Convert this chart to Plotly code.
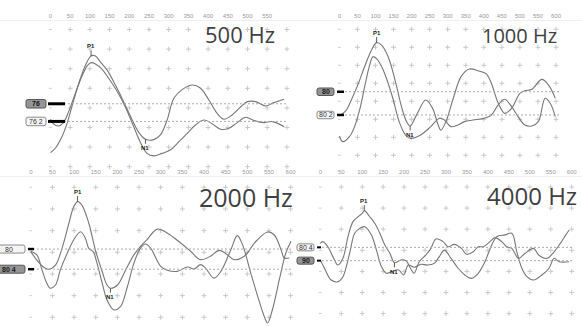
import numpy as np
import plotly.graph_objects as go

W, H = 582, 326

# ---------------- data ----------------
ticks_500 = [0, 50, 100, 150, 200, 250, 300, 350, 400, 450, 500, 550]
ticks_full = [0, 50, 100, 150, 200, 250, 300, 350, 400, 450, 500, 550, 600]
grid_ms = [0, 50, 100, 150, 200, 250, 300, 350, 400, 450, 500, 550, 600]

titles = ["500 Hz", "1000 Hz", "2000 Hz", "4000 Hz"]
labels_500 = ["76", "76 2"]
labels_1000 = ["80", "80 2"]
labels_2000 = ["80", "80 4"]
labels_4000 = ["80 4", "90"]

baseline_500 = [-0.79, -1.69]
baseline_1000 = [-0.47, -1.76]
baseline_2000 = [0.15, -0.78]
baseline_4000 = [0.14, -0.49]

p1_ms = [103, 103, 108, 105]
n1_ms = [241, 196, 184, 177]

p500_a_ms = [0, 12, 29, 42, 59, 76, 91, 103, 114, 126, 143, 165, 186, 207, 224, 241, 262, 279, 296, 313,
             334, 360, 381, 402, 423, 440, 461, 483, 500, 521, 546, 567, 593]
p500_a_val = [-3.28, -3.06, -2.47, -1.79, -0.6, 0.51, 1.28, 1.65, 1.65, 1.36, 0.95, 0.15, -0.7, -1.6, -2.25,
              -2.6, -2.62, -2.38, -1.62, -0.51, -0.07, 0.17, 0.0, -0.6, -1.28, -1.58, -1.36, -0.94, -0.68,
              -0.68, -0.9, -0.73, -0.56]
p500_b_ms = [0, 8, 20, 33, 46, 63, 80, 94, 103, 114, 131, 148, 169, 190, 211, 228, 245, 262, 283, 304, 326,
             347, 368, 390, 411, 432, 453, 474, 495, 517, 542, 563, 593]
p500_b_val = [-1.58, -1.82, -1.92, -1.75, -1.19, -0.26, 0.63, 1.17, 1.31, 1.24, 0.97, 0.5, -0.15, -0.95,
              -1.95, -2.75, -3.32, -3.45, -3.32, -3.15, -2.72, -2.3, -1.87, -1.62, -1.82, -2.09, -2.04,
              -1.75, -1.48, -1.65, -1.75, -1.7, -1.96]

p1000_a_ms = [0, 17, 33, 51, 70, 89, 103, 116, 135, 154, 172, 186, 196, 216, 239, 258, 272, 281, 295, 314,
              337, 360, 384, 407, 421, 440, 458, 477, 500, 514, 533, 561, 579, 598]
p1000_a_val = [-1.8, -1.55, -0.93, -0.09, 0.93, 1.85, 2.26, 2.13, 1.48, 0.19, -1.3, -2.13, -2.37, -1.67,
               -0.93, -1.39, -2.22, -2.6, -2.13, -0.93, 0.37, 0.79, 0.7, 0.52, 0.0, -1.11, -1.67, -1.39,
               -0.56, -0.41, -0.33, 0.22, -0.09, -0.83]
p1000_b_ms = [0, 9, 28, 42, 56, 70, 84, 93, 105, 121, 135, 149, 165, 184, 197, 225, 253, 277, 291, 309, 328,
              346, 370, 402, 421, 440, 458, 477, 495, 514, 533, 551, 570, 584, 598]
p1000_b_val = [-2.93, -3.24, -2.96, -2.41, -1.48, -0.19, 1.02, 1.48, 1.33, 0.75, 0.0, -0.9, -2.1, -2.9,
               -3.06, -2.87, -2.41, -1.94, -2.04, -2.41, -2.32, -2.13, -2.04, -1.94, -1.76, -1.2, -0.89,
               -1.3, -1.85, -2.32, -2.37, -2.13, -0.83, -1.11, -1.85]

p2000_a_ms = [0, 14, 30, 41, 57, 72, 88, 99, 108, 118, 134, 149, 165, 176, 184, 200, 219, 238, 253, 269,
              292, 315, 346, 369, 392, 415, 435, 454, 469, 493, 520, 547, 562, 578, 585, 597]
p2000_a_val = [0.03, -0.36, -0.69, -0.78, -0.59, 0.18, 1.34, 2.1, 2.34, 2.18, 1.34, 0.11, -0.9, -1.51,
               -1.66, -1.51, -0.82, -0.12, 0.26, 0.6, 1.07, 0.89, 0.43, 0.05, -0.34, -0.18, 0.09, -0.11,
               -0.34, -0.18, 0.51, 0.94, 0.81, 0.12, -0.26, -0.26]
p2000_b_ms = [0, 14, 26, 37, 45, 57, 68, 84, 99, 115, 126, 134, 144, 153, 165, 176, 192, 207, 223, 238,
              253, 265, 277, 300, 315, 338, 362, 377, 392, 403, 423, 439, 462, 477, 489, 508, 524, 539,
              547, 558, 574, 589, 601]
p2000_b_val = [0.05, -0.12, -0.82, -1.43, -1.66, -1.51, -0.82, -0.05, 0.57, 0.95, 0.65, 0.18, 0.03, -0.51,
               -1.43, -2.2, -2.66, -2.51, -1.59, -0.51, 0.18, 0.38, 0.18, -0.65, -0.83, -0.88, -0.68,
               -0.77, -0.57, -0.72, -1.19, -0.88, 0.12, 0.77, 0.35, -0.96, -2.03, -2.95, -3.26, -2.65,
               -1.26, -0.03, 0.51]

p4000_a_ms = [0, 6, 18, 30, 42, 54, 66, 78, 90, 100, 105, 118, 130, 142, 154, 166, 177, 192, 205, 215,
              224, 236, 252, 264, 276, 293, 305, 320, 337, 349, 365, 377, 389, 405, 417, 433, 445, 457,
              473, 489, 509, 521, 541, 558, 573, 586, 594]
p4000_a_val = [0.33, 0.41, 0.17, -0.3, -0.7, -0.38, 0.64, 1.36, 1.59, 1.75, 1.88, 1.59, 1.28, 0.81, 0.25,
               -0.14, -0.59, -0.46, -0.5, -0.85, -1.09, -0.54, -0.22, 0.09, 0.54, 0.41, 0.17, 0.28, 0.09,
               -0.19, -0.07, 0.17, 0.17, 0.41, 0.6, 0.41, 0.17, 0.09, -0.38, -0.14, 0.09, -0.22, -0.38,
               -0.07, 0.33, 0.73, 0.96]
p4000_b_ms = [0, 10, 26, 42, 54, 70, 82, 94, 106, 122, 134, 146, 158, 170, 187, 199, 210, 224, 240, 256,
              272, 284, 296, 312, 329, 345, 361, 377, 393, 409, 421, 441, 457, 469, 481, 493, 509, 529,
              546, 558, 570, 594]
p4000_b_val = [-0.46, -0.85, -1.41, -1.49, -1.25, -0.14, 0.81, 1.04, 1.12, 0.73, 0.01, -0.78, -1.09, -1.01,
               -0.93, -1.17, -0.7, -0.8, -0.66, -0.7, -0.62, -0.3, 0.01, -0.38, -0.85, -1.17, -1.33, -1.09,
               -0.54, 0.25, 0.64, 0.73, 0.81, -0.07, -0.85, -1.25, -1.41, -1.17, -0.85, -0.38, -0.54, -0.54]

# ---------------- layout helpers ----------------
def px(x):
    return x / W

def py(y):
    return 1 - y / H

panels = [
    dict(title=titles[0], a=(p500_a_ms, p500_a_val), b=(p500_b_ms, p500_b_val), ticks=ticks_500,
         x0=50.5, k=0.394, dx=(0, 291), zero=88.3, unit=19.6, dy=(0, 172), rows=range(-4, 4),
         axis_py=20, t_right=277, t_mid=34, t_size=22, base=baseline_500, labels=labels_500,
         dark=[True, False], dash=(48, 287), bar=(48, 65), bar_w=3, box=(26, 46), box_h=8.5),
    dict(title=titles[1], a=(p1000_a_ms, p1000_a_val), b=(p1000_b_ms, p1000_b_val), ticks=ticks_full,
         x0=339.4, k=0.361, dx=(291, 582), zero=83.3, unit=18.0, dy=(0, 163), rows=range(-4, 4),
         axis_py=20, t_right=559, t_mid=35, t_size=20, base=baseline_1000, labels=labels_1000,
         dark=[True, False], dash=(337, 560), bar=(337, 344), bar_w=2.5, box=(317, 334), box_h=7.5),
    dict(title=titles[2], a=(p2000_a_ms, p2000_a_val), b=(p2000_b_ms, p2000_b_val), ticks=ticks_full,
         x0=30.8, k=0.433, dx=(0, 300), zero=252.3, unit=21.67, dy=(163, 326), rows=range(-3, 4),
         axis_py=176, t_right=295, t_mid=197, t_size=25, base=baseline_2000, labels=labels_2000,
         dark=[False, True], dash=(29, 291), bar=(28, 34), bar_w=2.5, box=(-8, 25), box_h=8),
    dict(title=titles[3], a=(p4000_a_ms, p4000_a_val), b=(p4000_b_ms, p4000_b_val), ticks=ticks_full,
         x0=320.3, k=0.419, dx=(291, 582), zero=250.3, unit=21.1, dy=(163, 326), rows=range(-3, 4),
         axis_py=176, t_right=579, t_mid=195, t_size=24, base=baseline_4000, labels=labels_4000,
         dark=[False, True], dash=(318, 572), bar=(317, 321), bar_w=2, box=(297, 314), box_h=7),
]

fig = go.Figure()
layout = dict(width=W, height=H, margin=dict(l=0, r=0, t=0, b=0, autoexpand=False), paper_bgcolor="white",
              plot_bgcolor="rgba(0,0,0,0)", showlegend=False)
shapes, annots = [], []

def rounded_path(x0, x1, yc, h, r=2.0):
    y0, y1 = yc - h / 2, yc + h / 2
    pts = [
        ("M", [(x0 + r, y0)]), ("L", [(x1 - r, y0)]), ("Q", [(x1, y0), (x1, y0 + r)]),
        ("L", [(x1, y1 - r)]), ("Q", [(x1, y1), (x1 - r, y1)]), ("L", [(x0 + r, y1)]),
        ("Q", [(x0, y1), (x0, y1 - r)]), ("L", [(x0, y0 + r)]), ("Q", [(x0, y0), (x0 + r, y0)]),
    ]
    s = ""
    for cmd, ps in pts:
        s += cmd + " " + " ".join(f"{px(a):.5f},{py(b):.5f}" for a, b in ps) + " "
    return s + "Z"

for i, p in enumerate(panels, start=1):
    xa, ya = f"x{i}", f"y{i}"
    xk = "xaxis" if i == 1 else f"xaxis{i}"
    yk = "yaxis" if i == 1 else f"yaxis{i}"
    xr = [(p["dx"][0] - p["x0"]) / p["k"], (p["dx"][1] - p["x0"]) / p["k"]]
    yr = [(p["zero"] - p["dy"][1]) / p["unit"], (p["zero"] - p["dy"][0]) / p["unit"]]
    layout[xk] = dict(domain=[px(p["dx"][0]), px(p["dx"][1])], range=xr, side="top", anchor="free",
                      position=py(p["axis_py"]), tickvals=p["ticks"], ticktext=[str(t) for t in p["ticks"]],
                      tickfont=dict(size=6, color="#9a9a9a", family="Liberation Sans"), ticks="",
                      showgrid=False, zeroline=False, showline=True, linecolor="#efefef", linewidth=1,
                      automargin=False, fixedrange=True)
    layout[yk] = dict(domain=[py(p["dy"][1]), py(p["dy"][0])], range=yr, visible=False,
                      anchor=xa, fixedrange=True)

    # dot grid
    gx, gy, dx_, dy_ = [], [], [], []
    for r in p["rows"]:
        for c in grid_ms:
            if c == 0:
                dx_.append(c); dy_.append(r)
            else:
                gx.append(c); gy.append(r)
    fig.add_trace(go.Scatter(x=gx, y=gy, mode="markers", xaxis=xa, yaxis=ya, hoverinfo="skip",
                             marker=dict(symbol="cross-thin", size=3.5, line=dict(width=1, color="#c9c9c9"))))
    fig.add_trace(go.Scatter(x=dx_, y=dy_, mode="markers", xaxis=xa, yaxis=ya, hoverinfo="skip",
                             marker=dict(symbol="line-ew", size=2, line=dict(width=1, color="#cfcfcf"))))

    # baselines, bars, label boxes
    for j, b in enumerate(p["base"]):
        shapes.append(dict(type="line", xref="paper", yref=ya, x0=px(p["dash"][0]), x1=px(p["dash"][1]),
                           y0=b, y1=b, line=dict(color="#ababab", width=1, dash="2px,2px")))
        shapes.append(dict(type="line", xref="paper", yref=ya, x0=px(p["bar"][0]), x1=px(p["bar"][1]),
                           y0=b, y1=b, line=dict(color="black", width=p["bar_w"])))
        yc = p["zero"] - b * p["unit"]
        dark = p["dark"][j]
        shapes.append(dict(type="path", xref="paper", yref="paper",
                           path=rounded_path(p["box"][0], p["box"][1], yc, p["box_h"]),
                           fillcolor="#959595" if dark else "#f5f5f5",
                           line=dict(color="#555555" if dark else "#8a8a8a", width=1)))
        txt = p["labels"][j]
        annots.append(dict(xref="paper", yref="paper", x=px((p["box"][0] + p["box"][1]) / 2), y=py(yc),
                           text=f"<b>{txt}</b>" if dark else txt, showarrow=False,
                           font=dict(size=7, color="#1a1a1a" if dark else "#333333", family="Liberation Sans"),
                           xanchor="center", yanchor="middle"))

    # traces
    for key in ("a", "b"):
        xs, ys = p[key]
        fig.add_trace(go.Scatter(x=xs, y=ys, mode="lines", xaxis=xa, yaxis=ya, hoverinfo="skip",
                                 line=dict(color="#777777", width=1.1, shape="spline", smoothing=1.0)))

    # P1 / N1 markers on trace A
    ax_ms, ax_v = p["a"]
    p1y = float(np.interp(p1_ms[i - 1], ax_ms, ax_v))
    n1y = float(np.interp(n1_ms[i - 1], ax_ms, ax_v))
    annots.append(dict(xref=xa, yref=ya, x=p1_ms[i - 1], y=p1y, text="<b>P1</b>", showarrow=True,
                       arrowhead=0, arrowwidth=0.8, arrowcolor="#333333", ax=0, ay=-10, standoff=0,
                       font=dict(size=6, color="#222222", family="Liberation Sans")))
    annots.append(dict(xref=xa, yref=ya, x=n1_ms[i - 1], y=n1y, text="<b>N1</b>", showarrow=True,
                       arrowhead=0, arrowwidth=0.8, arrowcolor="#333333", ax=0, ay=9, standoff=0,
                       font=dict(size=6, color="#222222", family="Liberation Sans")))

    # big frequency title
    annots.append(dict(xref="paper", yref="paper", x=px(p["t_right"]), y=py(p["t_mid"]), text=p["title"],
                       showarrow=False, xanchor="right", yanchor="middle",
                       font=dict(size=p["t_size"], color="#404040", family="Open Sans")))

layout["shapes"] = shapes
layout["annotations"] = annots
fig.update_layout(**layout)
fig.write_html("out.html", config={"displayModeBar": False},
               post_script="document.body.style.margin='0';document.body.style.padding='0';")
